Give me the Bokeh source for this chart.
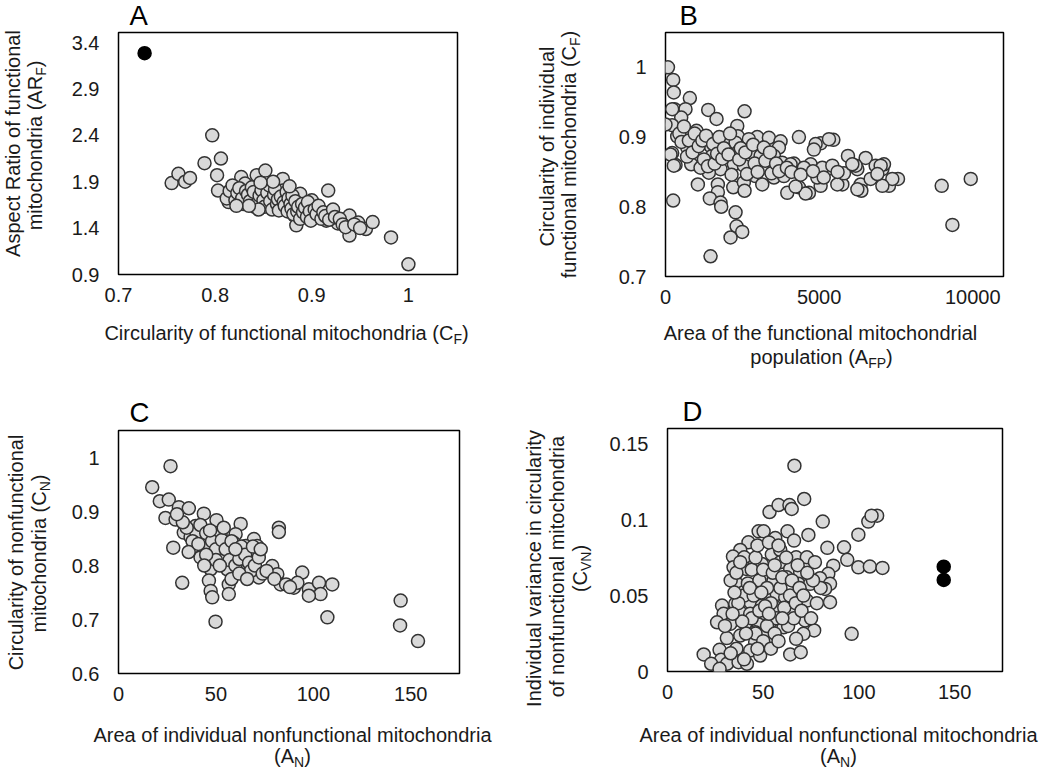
import math
from bokeh.plotting import figure
from bokeh.models import Range1d, FixedTicker
from bokeh.layouts import column, row
from bokeh.core.properties import value
from bokeh.embed import file_html
from bokeh.resources import INLINE

# ---------------- data ----------------
# Panel A: circularity (C_F) vs aspect ratio (AR_F)
a_x = [0.755, 0.762, 0.769, 0.774, 0.789, 0.797, 0.806, 0.802, 0.803,
       0.814, 0.817, 0.827, 0.831, 0.829, 0.843, 0.852, 0.841, 0.841, 0.853, 0.858,
       0.870, 0.870, 0.870, 0.884, 0.888, 0.882, 0.884, 0.900, 0.901, 0.894,
       0.908, 0.917, 0.920, 0.915, 0.927, 0.937, 0.939, 0.948, 0.956, 0.963,
       0.939, 0.982, 1.000,
       0.812, 0.815, 0.818, 0.821, 0.823, 0.825, 0.828, 0.832, 0.834, 0.836,
       0.838, 0.840, 0.844, 0.846, 0.848, 0.850, 0.851, 0.854, 0.856, 0.857,
       0.859, 0.861, 0.862, 0.864, 0.865, 0.866, 0.868, 0.871, 0.872, 0.874,
       0.875, 0.876, 0.878, 0.879, 0.880, 0.881, 0.883, 0.885, 0.886, 0.888,
       0.890, 0.891, 0.893, 0.895, 0.896, 0.898, 0.899, 0.903, 0.905, 0.907,
       0.910, 0.912, 0.914, 0.918, 0.922, 0.924, 0.929, 0.932, 0.935, 0.944,
       0.950, 0.845, 0.835, 0.822, 0.860, 0.877, 0.847]
a_y = [1.885, 1.985, 1.90, 1.94, 2.10, 2.40, 2.15, 1.97, 1.805,
       1.68, 1.75, 1.95, 1.88, 1.66, 1.97, 2.02, 1.73, 1.63, 1.66, 1.73,
       1.93, 1.805, 1.61, 1.66, 1.77, 1.535, 1.43, 1.70, 1.625, 1.55,
       1.535, 1.805, 1.575, 1.48, 1.45, 1.48, 1.535, 1.46, 1.39, 1.465,
       1.32, 1.30, 1.01,
       1.72, 1.80, 1.86, 1.70, 1.78, 1.83, 1.72, 1.80, 1.76, 1.69,
       1.84, 1.79, 1.67, 1.75, 1.81, 1.70, 1.63, 1.78, 1.86, 1.69,
       1.60, 1.76, 1.82, 1.66, 1.71, 1.59, 1.74, 1.68, 1.64, 1.79,
       1.58, 1.72, 1.66, 1.61, 1.75, 1.55, 1.69, 1.58, 1.63, 1.50,
       1.66, 1.57, 1.62, 1.52, 1.68, 1.58, 1.48, 1.60, 1.55, 1.64,
       1.50, 1.57, 1.53, 1.49, 1.60, 1.52, 1.50, 1.44, 1.41, 1.44,
       1.40, 1.60, 1.64, 1.64, 1.90, 1.85, 1.89]
a_out_x = [0.727]
a_out_y = [3.285]

# Panel B: area of functional population (A_FP) vs circularity (C_F)
b_x = [80, 250, 270, 293, 792, 651, 511, 217, 401, 217, 326, 250,
       1390, 1661, 2573, 1010, 814, 922, 1053, 1466, 1520, 1791, 1411, 1704,
       1704, 1443, 1791, 1813, 2280, 2313, 2497, 2117, 1466, 2009, 2335, 2355,
       2280, 2387, 2225, 2550, 2205, 2550, 2573, 2768, 2986, 2713, 3365, 3094,
       3311, 2931, 3149, 3745, 3690, 3528, 3800, 3528, 3853, 4342, 4179, 3963,
       4342, 4668, 4723, 5049, 5462, 5049, 5266, 5755, 5938, 6244, 4505, 4941,
       6514, 6188, 6351, 6374, 6677, 7058, 7110, 7273, 7566, 8989, 9934, 9337,
       5320, 4885, 4830, 6840, 7002, 7382, 6244, 7058, 5592, 4560, 4234, 4071,
       5103, 5429, 5809, 6080, 6895, 163, 271, 0, 217, 380, 706, 922, 836, 1140,
       450, 520, 600, 700, 760, 880, 950, 1080, 1200, 1250, 1320, 1380, 1550,
       1600, 1680, 1750, 1850, 1900, 2050, 2100, 2150, 2400, 2450, 2600, 2650,
       2850, 2900, 3000, 3200, 3250, 3400, 3450, 3600, 3700, 3950, 4100, 4400,
       4800, 5150, 5600]
b_y = [1.0, 0.982, 0.964, 0.940, 0.956, 0.940, 0.928, 0.917, 0.901, 0.877, 0.860, 0.809,
       0.939, 0.926, 0.937, 0.909, 0.885, 0.863, 0.832, 0.887, 0.873, 0.854, 0.849, 0.832,
       0.821, 0.812, 0.806, 0.800, 0.792, 0.772, 0.764, 0.756, 0.729, 0.894, 0.916, 0.901,
       0.892, 0.880, 0.861, 0.859, 0.828, 0.835, 0.823, 0.878, 0.900, 0.897, 0.899, 0.873,
       0.856, 0.844, 0.832, 0.894, 0.885, 0.873, 0.863, 0.842, 0.844, 0.900, 0.862, 0.820,
       0.828, 0.820, 0.861, 0.891, 0.896, 0.830, 0.854, 0.832, 0.873, 0.854, 0.856, 0.842,
       0.870, 0.859, 0.832, 0.823, 0.840, 0.854, 0.861, 0.830, 0.840, 0.830, 0.840, 0.774,
       0.897, 0.890, 0.882, 0.859, 0.859, 0.840, 0.825, 0.830, 0.832, 0.819, 0.829, 0.861,
       0.856, 0.859, 0.848, 0.861, 0.847, 0.875, 0.859, 0.918, 0.940, 0.901, 0.885, 0.899, 0.861, 0.856,
       0.905, 0.893, 0.915, 0.872, 0.895, 0.878, 0.905, 0.887, 0.895, 0.868, 0.902, 0.858, 0.890,
       0.862, 0.876, 0.900, 0.869, 0.884, 0.875, 0.905, 0.846, 0.868, 0.884, 0.878, 0.847,
       0.889, 0.862, 0.850, 0.885, 0.866, 0.878, 0.848, 0.862, 0.851, 0.856, 0.850, 0.846,
       0.851, 0.842, 0.850]

# Panel C: area of nonfunctional (A_N) vs circularity (C_N)
c_x = [26.7, 17.3, 21.2, 25.8, 31.0, 36.1, 24.1, 29.3, 43.8, 50.3, 62.7, 39.5,
       33.5, 37.0, 44.7, 52.4, 60.1, 69.5, 82.3, 82.3, 28.1, 38.7, 45.5, 52.7,
       42.1, 48.1, 55.0, 62.7, 70.4, 71.2, 65.2, 59.2, 64.4, 55.8, 47.3, 72.1,
       67.8, 78.9, 81.5, 83.2, 90.0, 94.3, 91.8, 97.7, 102.9, 103.7, 97.7, 109.7,
       107.2, 32.7, 46.4, 47.3, 48.1, 56.6, 56.6, 49.8, 144.8, 144.5, 153.7,
       40, 42, 45, 48, 50, 53, 55, 57, 58, 60, 62, 63, 65, 67, 68, 70, 72, 74, 76,
       50, 45, 38, 35, 33, 30, 52, 58, 62, 66, 80, 86, 88, 44, 36, 54, 47, 41, 60, 69, 73]
c_y = [0.984, 0.945, 0.919, 0.922, 0.908, 0.906, 0.888, 0.885, 0.896, 0.884, 0.877, 0.873,
       0.861, 0.853, 0.851, 0.858, 0.858, 0.849, 0.870, 0.862, 0.833, 0.836, 0.833, 0.838,
       0.815, 0.818, 0.818, 0.821, 0.824, 0.836, 0.836, 0.842, 0.802, 0.793, 0.793, 0.778,
       0.790, 0.799, 0.784, 0.765, 0.759, 0.787, 0.768, 0.756, 0.768, 0.747, 0.744, 0.765,
       0.704, 0.768, 0.772, 0.753, 0.741, 0.765, 0.747, 0.696, 0.735, 0.689, 0.660,
       0.860, 0.875, 0.860, 0.845, 0.830, 0.847, 0.830, 0.810, 0.845, 0.800, 0.812, 0.835,
       0.820, 0.805, 0.790, 0.800, 0.815, 0.785, 0.790,
       0.810, 0.820, 0.845, 0.870, 0.880, 0.895, 0.800, 0.775, 0.785, 0.775, 0.775, 0.765,
       0.760, 0.800, 0.825, 0.870, 0.865, 0.840, 0.830, 0.835, 0.830]

# Panel D: area of nonfunctional (A_N) vs variance in circularity (C_VN)
d_x = [66.3, 71.4, 53.3, 58.0, 63.7, 64.9, 81.1, 73.6, 99.7, 104.9, 109.5, 47.6,
       50.2, 56.3, 62.7, 66.1, 42.3, 38.0, 34.2, 40.1, 54.5, 58.9, 67.2, 72.8,
       83.5, 92.2, 93.9, 99.7, 105.7, 112.3, 86.6, 84.0, 79.7, 84.9, 82.3, 84.9,
       96.2, 34.5, 41.1, 49.3, 58.9, 64.1, 69.3, 36.3, 49.3, 55.4, 62.3, 68.4,
       74.5, 39.7, 45.8, 51.0, 57.1, 61.5, 67.6, 72.8, 28.5, 35.4, 43.2, 49.3,
       56.3, 29.3, 38.0, 43.2, 51.0, 64.1, 25.9, 32.8, 40.6, 47.6, 53.6, 60.6,
       71.9, 76.6, 71.0, 67.2, 38.0, 45.8, 51.9, 45.8, 54.5, 43.2, 48.4, 64.1,
       69.6, 18.9, 27.2, 28.0, 22.8, 31.1, 37.1, 41.5, 27.2, 106.6,
       33, 36, 38, 40, 42, 44, 46, 47, 48, 50, 52, 53, 54, 55, 56, 57, 58, 59,
       60, 61, 62, 63, 64, 65, 66, 67, 68, 69, 70, 71, 44, 46, 48, 50, 52, 54,
       56, 58, 60, 41, 39, 37, 35, 34, 31, 30, 45, 47, 43, 49, 51, 53, 36, 40,
       33, 75, 78, 80, 76, 73, 77]
d_y = [0.1355, 0.1136, 0.1050, 0.1096, 0.1096, 0.1070, 0.0987, 0.0899, 0.0901, 0.0987, 0.1026, 0.0923,
       0.0923, 0.0879, 0.0923, 0.0862, 0.0851, 0.0800, 0.0757, 0.0752, 0.0770, 0.0800, 0.0752, 0.0752,
       0.0814, 0.0818, 0.0735, 0.0686, 0.0691, 0.0682, 0.0697, 0.0643, 0.0614, 0.0577, 0.0544, 0.0456,
       0.0248, 0.0686, 0.0675, 0.0708, 0.0719, 0.0675, 0.0653, 0.0577, 0.0620, 0.0599, 0.0620, 0.0577,
       0.0577, 0.0522, 0.0533, 0.0489, 0.0511, 0.0489, 0.0467, 0.0467, 0.0434, 0.0445, 0.0456, 0.0434,
       0.0423, 0.0380, 0.0390, 0.0380, 0.0380, 0.0380, 0.0324, 0.0314, 0.0314, 0.0309, 0.0324, 0.0291,
       0.0336, 0.0270, 0.0248, 0.0215, 0.0237, 0.0259, 0.0259, 0.0193, 0.0193, 0.0138, 0.0105, 0.0112,
       0.0127, 0.0112, 0.0143, 0.0077, 0.0051, 0.0051, 0.0061, 0.0051, 0.0018, 0.1026,
       0.060, 0.065, 0.072, 0.050, 0.058, 0.067, 0.075, 0.083, 0.060, 0.067, 0.055, 0.085, 0.045, 0.065,
       0.070, 0.035, 0.083, 0.055, 0.062, 0.042, 0.075, 0.030, 0.050, 0.060, 0.035, 0.045, 0.070, 0.055,
       0.040, 0.050, 0.035, 0.025, 0.040, 0.020, 0.030, 0.015, 0.025, 0.020, 0.035, 0.025, 0.033, 0.045,
       0.052, 0.038, 0.022, 0.030, 0.050, 0.015, 0.055, 0.052, 0.043, 0.038, 0.015, 0.008, 0.012, 0.035,
       0.045, 0.055, 0.060, 0.065, 0.072]
d_out_x = [144.3, 144.3]
d_out_y = [0.0690, 0.0603]

# tick values and labels
a_xt, a_xl = [0.7, 0.8, 0.9, 1.0], ["0.7", "0.8", "0.9", "1"]
a_yt, a_yl = [0.9, 1.4, 1.9, 2.4, 2.9, 3.4], ["0.9", "1.4", "1.9", "2.4", "2.9", "3.4"]
b_xt, b_xl = [0, 5000, 10000], ["0", "5000", "10000"]
b_yt, b_yl = [0.7, 0.8, 0.9, 1.0], ["0.7", "0.8", "0.9", "1"]
c_xt, c_xl = [0, 50, 100, 150], ["0", "50", "100", "150"]
c_yt, c_yl = [0.6, 0.7, 0.8, 0.9, 1.0], ["0.6", "0.7", "0.8", "0.9", "1"]
d_xt, d_xl = [0, 50, 100, 150], ["0", "50", "100", "150"]
d_yt, d_yl = [0, 0.05, 0.1, 0.15], ["0", "0.05", "0.1", "0.15"]

# ---------------- styling / layout ----------------
FONT = "Liberation Sans"
TXT = "#1a1a1a"
FILL = "#d9d9d9"
EDGE = "#333333"
SIZE, SUB = 20, 14
LETTER = 27.5
MID = 0.3465   # distance (in em) from baseline up to the text box middle

# Arial / Liberation Sans advance widths (per 1000 em)
AW = {' ': 278, '(': 333, ')': 333, 'A': 667, 'B': 667, 'C': 722, 'D': 722, 'F': 611,
      'I': 278, 'N': 722, 'P': 667, 'R': 722, 'V': 667, 'a': 556, 'b': 556, 'c': 500,
      'd': 556, 'e': 556, 'f': 278, 'h': 556, 'i': 222, 'l': 222, 'm': 833, 'n': 556,
      'o': 556, 'p': 556, 'r': 333, 's': 500, 't': 278, 'u': 556, 'v': 500, 'y': 500}


def tw(s, size):
    return sum(AW.get(ch, 556) for ch in s) * size / 1000.0


def no_align(fig):
    try:
        fig.frame_align = False
    except Exception:
        pass


def strip(ox, oy, w, h):
    s = figure(width=w, height=h, x_range=Range1d(0, w), y_range=Range1d(0, h),
               min_border=0, x_axis_location=None, y_axis_location=None,
               output_backend="svg", toolbar_location=None)
    s.grid.visible = False
    s.outline_line_color = None
    no_align(s)
    s._origin = (ox, oy, w, h)
    return s


def put_center(s, t, cx, cy, size, angle=0.0, color=TXT):
    """Place text so that the centre of its box is at page pixel (cx, cy)."""
    ox, oy, w, h = s._origin
    s.text(x=[cx - ox], y=[h - (cy - oy)], text=[t], angle=angle,
           text_align="center", text_baseline="middle",
           text_font=value(FONT), text_font_size=value(f"{size}px"), text_color=color)


def text_line(s, parts, center, baseline, rotated=False):
    widths = [tw(t, SUB if sub else SIZE) for t, sub in parts]
    total = sum(widths)
    pos = center + total / 2.0 if rotated else center - total / 2.0
    for (t, sub), w in zip(parts, widths):
        fs = SUB if sub else SIZE
        base = baseline + (4 if sub else 0)
        if rotated:
            put_center(s, t, base - MID * fs, pos - w / 2.0, fs, angle=math.pi / 2)
            pos -= w
        else:
            put_center(s, t, pos + w / 2.0, base - MID * fs, fs)
            pos += w


def letter(s, t, left, baseline, size=LETTER):
    w = tw(t, size)
    put_center(s, t, left + w / 2.0, baseline - MID * size, size, color="black")


def panel(ox, oy, W, H, frame, top_h, left_w, main_bottom, xr, yr, xt, xl, yt, yl):
    L, T, R, B = frame
    mx, my = ox + left_w, oy + top_h
    p = figure(frame_width=R - L, frame_height=B - T,
               x_range=Range1d(*xr), y_range=Range1d(*yr),
               min_border_left=L - mx, min_border_top=T - my,
               min_border_right=ox + W - R, min_border_bottom=main_bottom - B,
               output_backend="svg", toolbar_location=None)
    no_align(p)
    p.grid.visible = False
    p.outline_line_color = "black"
    p.outline_line_width = 1.5
    for ax in (p.xaxis[0], p.yaxis[0]):
        ax.axis_line_color = None
        ax.major_tick_line_color = None
        ax.minor_tick_line_color = None
        ax.major_tick_out = 0
        ax.major_tick_in = 0
        ax.minor_tick_out = 0
        ax.minor_tick_in = 0
        ax.major_label_text_font = FONT
        ax.major_label_text_font_size = f"{SIZE}px"
        ax.major_label_text_color = TXT
    p.xaxis[0].ticker = FixedTicker(ticks=xt)
    p.xaxis[0].major_label_overrides = dict(zip(xt, xl))
    p.xaxis[0].major_label_standoff = 13
    p.yaxis[0].ticker = FixedTicker(ticks=yt)
    p.yaxis[0].major_label_overrides = dict(zip(yt, yl))
    p.yaxis[0].major_label_standoff = 19
    left = strip(ox, oy, left_w, H)                      # full panel height
    top = strip(mx, oy, W - left_w, top_h)
    bottom = strip(mx, main_bottom, W - left_w, oy + H - main_bottom)
    return p, top, left, bottom


def dots(p, xs, ys, fill):
    p.scatter(xs, ys, size=13, fill_color=fill,
              line_color=EDGE if fill != "black" else "black", line_width=1.5)


# Panel A
pa, ta, la, ba = panel(0, 0, 520, 386, (118, 32, 457, 274), 31, 62, 316,
                       (0.7, 1.0508), (0.9, 3.508), a_xt, a_xl, a_yt, a_yl)
dots(pa, a_x, a_y, FILL)
dots(pa, a_out_x, a_out_y, "black")
letter(ta, "A", 129, 25)
text_line(la, [("Aspect Ratio of functional", False)], 143, 19, rotated=True)
text_line(la, [("mitochondria (AR", False), ("F", True), (")", False)], 145, 41, rotated=True)
text_line(ba, [("Circularity of functional mitochondria (C", False), ("F", True), (")", False)], 286, 339)

# Panel B
pb, tb, lb, bb = panel(520, 0, 528, 386, (665, 32, 1003, 276), 31, 75, 316,
                       (0, 11000), (0.7, 1.05), b_xt, b_xl, b_yt, b_yl)
dots(pb, b_x, b_y, FILL)
letter(tb, "B", 679, 25)
text_line(lb, [("Circularity of individual", False)], 146, 553, rotated=True)
text_line(lb, [("functional mitochondria (C", False), ("F", True), (")", False)], 154, 575, rotated=True)
text_line(bb, [("Area of the functional mitochondrial", False)], 820, 339)
text_line(bb, [("population (A", False), ("FP", True), (")", False)], 821, 363)

# Panel C
pc, tc, lc, bc = panel(0, 386, 520, 384, (118, 430, 459, 673), 42, 62, 713,
                       (0, 175), (0.6, 1.05), c_xt, c_xl, c_yt, c_yl)
dots(pc, c_x, c_y, FILL)
letter(tc, "C", 129, 422)
text_line(lc, [("Circularity of nonfunctional", False)], 552, 22, rotated=True)
text_line(lc, [("mitochondria (C", False), ("N", True), (")", False)], 553, 45, rotated=True)
text_line(bc, [("Area of individual nonfunctional mitochondria", False)], 292, 741)
text_line(bc, [("(A", False), ("N", True), (")", False)], 292, 762)

# Panel D
pd_, td, ld, bd = panel(520, 386, 528, 384, (667, 428, 1002, 671), 41, 75, 713,
                        (0, 175), (0, 0.16), d_xt, d_xl, d_yt, d_yl)
dots(pd_, d_x, d_y, FILL)
dots(pd_, d_out_x, d_out_y, "black")
letter(td, "D", 682, 421)
text_line(ld, [("Individual variance in circularity", False)], 568, 540, rotated=True)
text_line(ld, [("of nonfunctional mitochondria", False)], 566, 563, rotated=True)
text_line(ld, [("(C", False), ("VN", True), (")", False)], 568, 586, rotated=True)
text_line(bd, [("Area of individual nonfunctional mitochondria", False)], 838, 741)
text_line(bd, [("(A", False), ("N", True), (")", False)], 838, 762)


def block(p, t, l, b):
    return row(l, column(t, p, b))


layout = column(row(block(pa, ta, la, ba), block(pb, tb, lb, bb)),
                row(block(pc, tc, lc, bc), block(pd_, td, ld, bd)))
open("out.html", "w").write(file_html(layout, INLINE))
